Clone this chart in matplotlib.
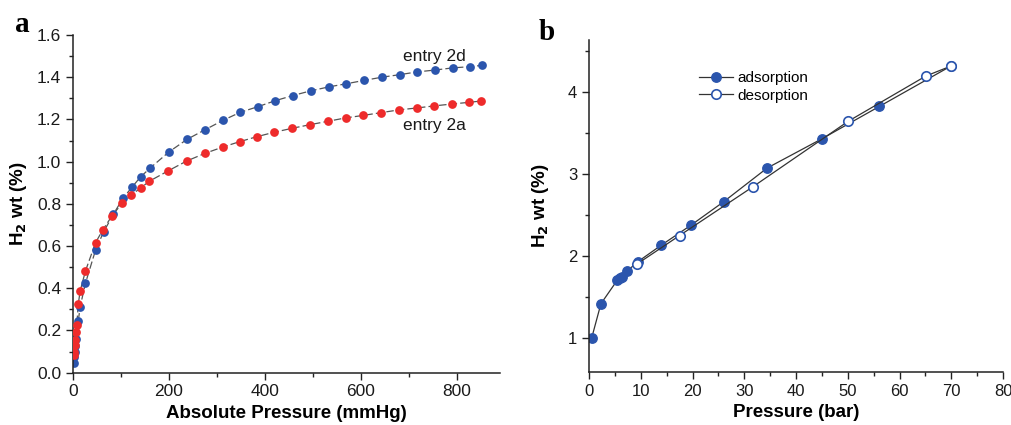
import matplotlib
matplotlib.use("Agg")
import matplotlib.pyplot as plt
from matplotlib.ticker import MultipleLocator

plt.rcParams['font.family'] = ['Liberation Sans', 'DejaVu Sans']

# panel a: isotherms at 77 K, low pressure
p_2d = [2, 3, 4, 5, 7, 11, 15, 26, 47, 64, 84, 104, 123, 141, 160, 200, 238, 276,
        313, 349, 385, 422, 458, 495, 533, 570, 607, 644, 681, 717, 755, 791, 828, 852]
wt_2d = [0.047, 0.075, 0.10, 0.125, 0.158, 0.245, 0.313, 0.424, 0.581, 0.668, 0.750,
         0.826, 0.879, 0.928, 0.968, 1.046, 1.106, 1.152, 1.196, 1.234, 1.260, 1.289,
         1.313, 1.335, 1.354, 1.369, 1.385, 1.400, 1.412, 1.425, 1.434, 1.444, 1.450, 1.456]

p_2a = [2, 3, 4, 5, 6, 8, 11, 15, 26, 47, 62, 81, 102, 121, 141, 159, 199, 237, 275,
        312, 348, 383, 419, 457, 494, 531, 568, 605, 642, 679, 716, 753, 790, 826, 850]
wt_2a = [0.085, 0.10, 0.13, 0.155, 0.194, 0.228, 0.325, 0.388, 0.482, 0.616, 0.676,
         0.742, 0.802, 0.841, 0.875, 0.907, 0.957, 1.003, 1.039, 1.069, 1.095, 1.118,
         1.139, 1.158, 1.175, 1.191, 1.207, 1.219, 1.232, 1.245, 1.254, 1.264, 1.273,
         1.281, 1.287]

# panel b: high pressure
p_ads = [0.5, 2.3, 5.5, 6.0, 6.3, 7.4, 9.4, 13.9, 19.8, 26.0, 34.4, 45.1, 56.1, 69.9]
wt_ads = [1.00, 1.42, 1.71, 1.73, 1.75, 1.82, 1.93, 2.13, 2.38, 2.66, 3.07, 3.43, 3.82, 4.31]
p_des = [69.9, 65.1, 50.1, 31.6, 17.5, 9.2]
wt_des = [4.31, 4.19, 3.64, 2.84, 2.25, 1.90]

blue = '#2b55ad'
red = '#ee2b2b'
axcol = '#222222'

fig = plt.figure(figsize=(10.11, 4.25), dpi=100)
ax1 = fig.add_axes([0.0722, 0.1231, 0.4224, 0.7946])
ax2 = fig.add_axes([0.5826, 0.1254, 0.4095, 0.7805])

for ax in (ax1, ax2):
    for s in ('top', 'right'):
        ax.spines[s].set_visible(False)
    for s in ('left', 'bottom'):
        ax.spines[s].set_linewidth(1.1)
        ax.spines[s].set_color(axcol)
    ax.tick_params(which='major', direction='out', length=5, width=1.0, colors=axcol,
                   labelsize=12.5, labelcolor='#1a1a1a')
    ax.tick_params(which='minor', direction='out', length=2.8, width=1.0, colors=axcol)

# --- a ---
ax1.plot(p_2d, wt_2d, color='#555555', lw=0.9, ls=(0, (6, 2.5)), zorder=1)
ax1.plot(p_2a, wt_2a, color='#555555', lw=0.9, ls=(0, (6, 2.5)), zorder=1)
ax1.plot(p_2d, wt_2d, 'o', color=blue, ms=6.3, mec='none', zorder=2)
ax1.plot(p_2a, wt_2a, 'o', color=red, ms=6.3, mec='none', zorder=3)
ax1.set_xlim(0, 890)
ax1.set_ylim(0, 1.6)
ax1.xaxis.set_major_locator(MultipleLocator(200))
ax1.xaxis.set_minor_locator(MultipleLocator(100))
ax1.yaxis.set_major_locator(MultipleLocator(0.2))
ax1.yaxis.set_minor_locator(MultipleLocator(0.1))
ax1.yaxis.set_major_formatter(matplotlib.ticker.FormatStrFormatter('%.1f'))
ax1.set_xlabel('Absolute Pressure (mmHg)', fontsize=13.5, fontweight='bold', labelpad=4)
ax1.set_ylabel('H$_\\mathbf{2}$ wt (%)', fontsize=13.5, fontweight='bold', labelpad=6)
ax1.text(754, 1.5, 'entry 2d', fontsize=12.5, ha='center', va='center', color='#1a1a1a')
ax1.text(754, 1.17, 'entry 2a', fontsize=12.5, ha='center', va='center', color='#1a1a1a')
fig.text(0.015, 0.925, 'a', fontsize=21, fontweight='bold', family='Liberation Serif')

# --- b ---
ax2.plot(p_ads, wt_ads, '-o', color='#333333', lw=0.9, ms=6.8, mfc=blue, mec=blue,
         label='adsorption', zorder=2)
ax2.plot(p_des, wt_des, '-o', color='#333333', lw=0.9, ms=6.8, mfc='white', mec=blue,
         mew=1.2, label='desorption', zorder=3)
ax2.set_xlim(0, 80)
ax2.set_ylim(0.594, 4.628)
ax2.xaxis.set_major_locator(MultipleLocator(10))
ax2.xaxis.set_minor_locator(MultipleLocator(5))
ax2.yaxis.set_major_locator(MultipleLocator(1))
ax2.yaxis.set_minor_locator(MultipleLocator(0.5))
ax2.tick_params(labelsize=12)
ax2.set_xlabel('Pressure (bar)', fontsize=13.5, fontweight='bold', labelpad=4)
ax2.set_ylabel('H$_\\mathbf{2}$ wt (%)', fontsize=13.5, fontweight='bold', labelpad=12)
ax2.legend(loc='upper left', bbox_to_anchor=(0.248, 0.93), frameon=False, fontsize=11,
           handlelength=2.2, handletextpad=0.3, borderpad=0, labelspacing=0.25)
fig.text(0.533, 0.905, 'b', fontsize=21, fontweight='bold', family='Liberation Serif')

fig.savefig('out.png', dpi=100)
